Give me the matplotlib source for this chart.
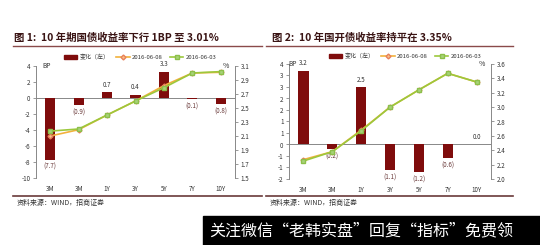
import numpy as np
import matplotlib
matplotlib.use("Agg")
import matplotlib.pyplot as plt
from matplotlib.lines import Line2D
from matplotlib.patches import Rectangle

plt.rcParams['font.family'] = ['Noto Sans CJK SC', 'DejaVu Sans']

# data
cats = ["3M", "3M", "1Y", "3Y", "5Y", "7Y", "10Y"]

chg1 = [-7.7, -0.9, 0.7, 0.4, 3.3, -0.1, -0.8]
y0608_1 = [2.10, 2.19, 2.40, 2.60, 2.82, 3.00, 3.01]
y0603_1 = [2.17, 2.20, 2.40, 2.60, 2.79, 3.00, 3.02]

chg2 = [3.2, -0.2, 2.5, -1.1, -1.2, -0.6, 0.0]
y0608_2 = [2.27, 2.38, 2.68, 3.00, 3.24, 3.47, 3.35]
y0603_2 = [2.25, 2.38, 2.67, 3.00, 3.24, 3.47, 3.35]

title1 = "图 1:  10 年期国债收益率下行 1BP 至 3.01%"
title2 = "图 2:  10 年国开债收益率持平在 3.35%"
source = "资料来源：WIND，招商证券"

W, H = 540, 245
fig = plt.figure(figsize=(W / 100, H / 100), dpi=100)

BAR = "#7f0c0c"
ORANGE = "#f2b13c"
GREEN = "#9cc83c"
AXC = "#888888"
TXT = "#333333"


def px_axes(x0, y0, x1, y1):
    return fig.add_axes([x0 / W, 1 - y1 / H, (x1 - x0) / W, (y1 - y0) / H])


def round_half(v):
    s = -1 if v < 0 else 1
    return str(s * int(np.floor(abs(v) + 0.5)))


def panel(box, chg, a, b, lticks, ltick_fmt, rlim, rticks, title, tx, line_x,
          legend_c, bp_x):
    x0, y0, x1, y1 = box
    ax = px_axes(x0, y0, x1, y1)
    x = np.arange(len(cats))
    ax.bar(x, chg, width=0.36, color=BAR, zorder=2)
    ax.axhline(0, color=AXC, lw=0.7, zorder=1)
    ax.set_xlim(-0.5, len(cats) - 0.5)
    ax.set_ylim(lticks[0], lticks[-1])
    ax.set_yticks(lticks)
    ax.set_yticklabels([ltick_fmt(v) for v in lticks])
    ax.set_xticks(x)
    ax.set_xticklabels(cats)
    ax.tick_params(axis='x', length=0, labelsize=4.5, colors=TXT, pad=5)
    ax.tick_params(axis='y', length=2, width=0.6, labelsize=4.5, colors=TXT,
                   pad=2, color=AXC)
    for s in ["top", "bottom", "right"]:
        ax.spines[s].set_visible(False)
    ax.spines["left"].set_color(AXC)
    ax.spines["left"].set_linewidth(0.7)
    span = lticks[-1] - lticks[0]
    for xi, v in zip(x, chg):
        if v > 0 or v == 0:
            ax.text(xi, v + span * 0.03, f"{v:.1f}", ha="center", va="bottom",
                    fontsize=4.5, color=TXT)
        else:
            ax.text(xi, v - span * 0.03, f"({abs(v):.1f})", ha="center", va="top",
                    fontsize=4.5, color="#6a3a3a")
    ax.text(bp_x, 1.0, "BP", transform=ax.transAxes, fontsize=4.8, color=TXT,
            ha="left", va="center")

    ax2 = ax.twinx()
    ax2.plot(x, a, color=ORANGE, lw=1.2, marker="D", ms=2.5,
             mfc="#f6c28a", mec="#e8805a", zorder=3)
    ax2.plot(x, b, color=GREEN, lw=1.2, marker="s", ms=3.5,
             mfc="#a8d37a", mec="#8cbf4a", zorder=4)
    ax2.set_ylim(*rlim)
    ax2.set_yticks(rticks)
    ax2.set_yticklabels([f"{v:.1f}" for v in rticks])
    ax2.tick_params(axis='y', length=2, width=0.6, labelsize=4.5, colors=TXT,
                    pad=2, color=AXC)
    for s in ["top", "bottom", "left"]:
        ax2.spines[s].set_visible(False)
    ax2.spines["right"].set_color(AXC)
    ax2.spines["right"].set_linewidth(0.7)
    ax2.text(0.97, 1.0, "%", transform=ax2.transAxes, fontsize=5, color=TXT,
             ha="right", va="center")

    handles = [
        Rectangle((0, 0), 1, 1, color=BAR),
        Line2D([], [], color=ORANGE, lw=1.2, marker="D", ms=2.5,
               mfc="#f6c28a", mec="#e8805a"),
        Line2D([], [], color=GREEN, lw=1.2, marker="s", ms=3.5,
               mfc="#a8d37a", mec="#8cbf4a"),
    ]
    fig.legend(handles, ["变化（左）", "2016-06-08", "2016-06-03"], ncol=3,
               loc="center", bbox_to_anchor=(legend_c[0] / W, 1 - legend_c[1] / H),
               frameon=False, fontsize=4.3, handlelength=2.2, handleheight=0.6,
               columnspacing=1.2, handletextpad=0.4, labelcolor=TXT)

    # title with underline
    fig.text(tx / W, 1 - 38 / H, title, fontsize=7.5, fontweight="bold",
             color="#3a1414", ha="left", va="center")
    fig.add_artist(Line2D([line_x[0] / W, line_x[1] / W], [1 - 46 / H] * 2,
                          color="#8a4a4a", lw=1.0))
    # bottom source line
    fig.add_artist(Line2D([line_x[0] / W, line_x[1] / W], [1 - 196 / H] * 2,
                          color="#6a3a3a", lw=1.2))
    fig.text((line_x[0] + 4) / W, 1 - 202.5 / H, source, fontsize=5,
             color=TXT, ha="left", va="center")


panel((36, 66, 235, 178), chg1, y0608_1, y0603_1,
      list(range(-10, 5, 2)), lambda v: str(int(v)),
      (1.5, 3.1), np.round(np.arange(1.5, 3.11, 0.2), 1),
      title1, 14, (13, 262), (140, 57), 0.03)

panel((289, 64, 491, 179), chg2, y0608_2, y0603_2,
      list(np.arange(-1.5, 3.51, 0.5)), round_half,
      (2.0, 3.6), np.round(np.arange(2.0, 3.61, 0.2), 1),
      title2, 272, (266, 513), (405, 56), -0.005)

# watermark banner
fig.add_artist(Rectangle((203 / W, 0), 1 - 203 / W, (245 - 215.5) / H,
                         transform=fig.transFigure, color="black"))
fig.text(361 / W, 1 - 231 / H, "关注微信“老韩实盘”回复“指标”免费领",
         fontsize=11.5, color="white", ha="center", va="center")

fig.savefig("out.png", dpi=100)
